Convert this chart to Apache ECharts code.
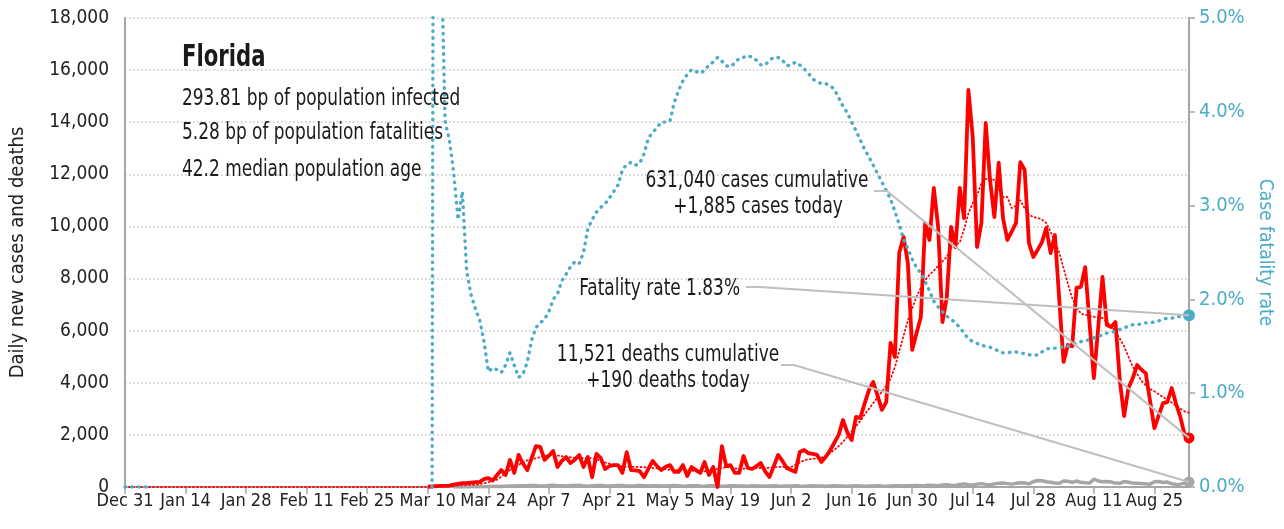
<!DOCTYPE html>
<html>
<head>
<meta charset="utf-8">
<title>Florida</title>
<script src="https://cdn.jsdelivr.net/npm/echarts/dist/echarts.min.js"></script>
<style>
    html, body { margin: 0; padding: 0; background: #fff; }
    #main1 { width: 1284px; height: 529px; }
</style>
</head>
<body>
<div id="main1"></div>
<script>
// 日期: Dec 31 2019 起, 共 247 天 (到 Sep 2)
var firstDay = [2019, 11, 31];
var dayCount = 247;
var labelEvery = 14;
var monthNames = ['Jan', 'Feb', 'Mar', 'Apr', 'May', 'Jun', 'Jul', 'Aug', 'Sep', 'Oct', 'Nov', 'Dec'];

// 每日新增病例 (从 Mar 10 开始, 之前无数据)
var casesFirstDay = 70;
var newCases = [
    10, 20, 30, 40, 45, 50, 90, 120, 150, 150,
    170, 190, 200, 300, 340, 250, 450, 650, 460, 1040,
    540, 1230, 900, 650, 1100, 1570, 1540, 1040, 1200, 1380,
    770, 1000, 1150, 920, 1050, 1230, 770, 1150, 380, 1270,
    1110, 690, 800, 840, 840, 540, 1340, 650, 640, 610,
    380, 700, 1000, 800, 650, 780, 840, 580, 580, 840,
    420, 770, 650, 540, 960, 460, 770, 0, 1570, 800,
    840, 540, 540, 1190, 730, 690, 800, 920, 600, 380,
    800, 1230, 1000, 730, 650, 580, 1340, 1420, 1300, 1270,
    1230, 960, 1150, 1400, 1700, 2000, 2570, 2100, 1800, 2690,
    2650, 3200, 3720, 4030, 3500, 2960, 3260, 5530, 4990, 8980,
    9600, 8600, 5260, 5900, 6520, 10130, 9480, 11480, 9980, 6330,
    7290, 9980, 9210, 11480, 10320, 15240, 13430, 9210, 10130, 13970,
    11780, 10360, 12450, 10320, 9480, 9800, 10130, 12470, 12170, 9360,
    8830, 9100, 9400, 9940, 8980, 9670, 7200, 4800, 5450, 5400,
    7640, 7680, 8440, 6300, 4180, 6100, 8060, 6220, 6140, 6330,
    4100, 2720, 3800, 4180, 4680, 4500, 4370, 3300, 2260, 2750,
    3220, 3260, 3800, 3200, 2690, 2000, 1885
];

// 病例移动平均 (红色点线), 前 70 天为 0
var avgZeroDays = 70;
var casesAvg = [
    5, 10, 15, 20, 30, 40, 50, 60, 70, 80,
    90, 100, 110, 140, 180, 230, 280, 400, 520, 650,
    750, 850, 950, 1020, 1060, 1100, 1150, 1190, 1220, 1230,
    1210, 1180, 1150, 1140, 1120, 1110, 1110, 1110, 1110, 1060,
    1000, 940, 900, 860, 820, 790, 770, 770, 770, 770,
    760, 745, 730, 715, 700, 680, 660, 650, 650, 650,
    650, 630, 600, 580, 600, 630, 650, 690, 730, 770,
    750, 720, 690, 700, 715, 730, 730, 730, 730, 740,
    755, 770, 770, 770, 770, 850, 940, 1020, 1060, 1080,
    1100, 1120, 1200, 1300, 1420, 1570, 1730, 1930, 2130, 2330,
    2530, 2780, 3000, 3220, 3440, 3660, 3880, 4150, 4600, 5200,
    5800, 6400, 6850, 7300, 7650, 7940, 8150, 8300, 8480, 8660,
    8830, 9180, 9300, 9380, 9900, 10500, 10900, 11200, 11650, 11820,
    11860, 11780, 11450, 11130, 11130, 10700, 10800, 11010, 10700, 10450,
    10360, 10330, 10260, 10130, 9800, 9400, 9000, 8400, 7800, 7250,
    6900, 6650, 6610, 6580, 6530, 6510, 6490, 6330, 6180, 5950,
    5700, 5400, 5000, 4620, 4350, 4080, 3900, 3760, 3670, 3560,
    3450, 3350, 3240, 3120, 3010, 2900, 2850
];

// 每日新增死亡 (从 Mar 16 开始)
var deathsFirstDay = 76;
var newDeaths = [
    1, 2, 3, 2, 5, 8, 10, 12, 15, 20, 25, 20, 30, 35, 40, 45,
    50, 45, 60, 55, 40, 35, 60, 70, 50, 45, 40, 55, 60, 65, 45,
    30, 50, 60, 55, 45, 40, 50, 60, 55, 40, 35, 45, 60, 50, 40,
    45, 50, 40, 35, 50, 55, 45, 30, 40, 50, 45, 35, 30, 45, 50, 40,
    30, 35, 45, 50, 40, 35, 30, 45, 40, 35, 30, 40, 45, 35, 30,
    35, 40, 45, 35, 30, 40, 45, 40, 35, 30, 40, 45, 40, 35, 30,
    40, 45, 40, 30, 35, 40, 45, 35, 30, 40, 50, 45, 40, 45, 50,
    60, 50, 55, 70, 60, 50, 80, 90, 70, 60, 100, 120, 90, 80, 110, 130,
    100, 90, 120, 140, 150, 130, 110, 140, 160, 150, 120, 200, 250, 240, 200,
    180, 150, 140, 230, 220, 180, 230, 180, 160, 150, 300, 230, 200, 210, 190,
    150, 140, 210, 180, 150, 140, 130, 120, 110, 200, 210, 170, 190, 130, 100,
    110, 150, 190
];

// 病死率 % (右轴), 开头几天为 0, 从 Mar 11 起
var rateEarly = [0, 0, 0, 0, 0, 0];
var rateFirstDay = 71;
var fatalityRate = [
    0, 25, 6.0, 3.9, 3.7, 3.35, 2.85, 3.15, 2.3, 2.05,
    1.9, 1.78, 1.55, 1.23, 1.27, 1.25, 1.22, 1.3, 1.43, 1.3,
    1.17, 1.2, 1.33, 1.56, 1.7, 1.75, 1.79, 1.87, 2.0, 2.06,
    2.2, 2.27, 2.35, 2.4, 2.38, 2.5, 2.75, 2.85, 2.93, 2.98,
    3.02, 3.08, 3.15, 3.22, 3.38, 3.44, 3.46, 3.43, 3.45, 3.55,
    3.72, 3.78, 3.83, 3.89, 3.89, 3.9, 4.1, 4.23, 4.33, 4.4,
    4.45, 4.43, 4.41, 4.44, 4.5, 4.53, 4.58, 4.54, 4.49, 4.48,
    4.52, 4.57, 4.58, 4.6, 4.58, 4.55, 4.5, 4.5, 4.55, 4.58,
    4.58, 4.55, 4.49, 4.5, 4.53, 4.5, 4.46, 4.41, 4.35, 4.32,
    4.3, 4.3, 4.28, 4.24, 4.15, 4.06, 3.99, 3.89, 3.8, 3.7,
    3.6, 3.52, 3.43, 3.34, 3.25, 3.16, 3.07, 2.94, 2.8, 2.64,
    2.54, 2.43, 2.34, 2.28, 2.19, 2.09, 1.98, 1.92, 1.87, 1.82,
    1.79, 1.75, 1.7, 1.64, 1.58, 1.55, 1.53, 1.51, 1.5, 1.49,
    1.47, 1.45, 1.43, 1.43, 1.44, 1.44, 1.43, 1.42, 1.41, 1.4,
    1.41, 1.44, 1.47, 1.48, 1.48, 1.49, 1.49, 1.5, 1.52, 1.53,
    1.55, 1.56, 1.57, 1.59, 1.61, 1.62, 1.64, 1.65, 1.66, 1.68,
    1.7, 1.71, 1.73, 1.73, 1.74, 1.75, 1.75, 1.76, 1.77, 1.79,
    1.8, 1.8, 1.81, 1.82, 1.82, 1.83
];

var stateName = 'Florida';
var infoLines = [
    '293.81 bp of population infected',
    '5.28 bp of population fatalities',
    '42.2 median population age'
];
var casesNote = ['631,040 cases cumulative', '+1,885 cases today'];
var rateNote = 'Fatality rate 1.83%';
var deathsNote = ['11,521 deaths cumulative', '+190 deaths today'];

var FONT = "'Liberation Sans Narrow', 'DejaVu Sans Condensed', 'Roboto', sans-serif";
var TEAL = '#4bacc6';
var GRAY = '#a6a6a6';
var LEADER = '#bfbfbf';
var NARROW = 0.82;   // 没有窄体字, 横向压缩文字

drawMain1();

function drawMain1() {
    var myChart = echarts.init(document.getElementById('main1'), null, { renderer: 'canvas' });

    var days = getDays(firstDay, dayCount);
    var lastDay = days[days.length - 1];

    var casesData = padFront(newCases, casesFirstDay, null);
    var avgData = padFront(casesAvg, avgZeroDays, 0);
    var deathsData = padFront(newDeaths, deathsFirstDay, null);
    var rateData = rateEarly.slice();
    rateData = rateData.concat(padFront(fatalityRate, rateFirstDay - rateEarly.length, null));

    var lastCases = newCases[newCases.length - 1];
    var lastDeaths = newDeaths[newDeaths.length - 1];
    var lastRate = fatalityRate[fatalityRate.length - 1];

    var leaderStyle = { color: LEADER, width: 2, type: 'solid' };
    // 每两周一个刻度
    var everyTwoWeeks = function (index) { return index % labelEvery === 0; };

    var option = {
        backgroundColor: '#fff',
        animation: false,
        textStyle: { fontFamily: FONT },
        grid: { left: 124, right: 95, top: 18, bottom: 42, containLabel: false },
        xAxis: {
            type: 'category',
            data: days,
            boundaryGap: false,
            axisLine: { lineStyle: { color: GRAY, width: 2 } },
            axisTick: { interval: everyTwoWeeks, length: 7, lineStyle: { color: GRAY, width: 1.5 } },
            axisLabel: {
                interval: everyTwoWeeks, fontSize: 18, color: '#222', margin: 5, fontFamily: FONT
            },
            splitLine: { show: false }
        },
        yAxis: [{
            type: 'value',
            min: 0,
            max: 18000,
            interval: 2000,
            name: 'Daily new cases and deaths',
            nameLocation: 'middle',
            nameGap: 97,
            nameTextStyle: { fontSize: 20, color: '#222', fontFamily: FONT },
            axisLine: { show: true, lineStyle: { color: GRAY, width: 2 } },
            axisTick: { show: false },
            axisLabel: {
                fontSize: 19, color: '#222', margin: 16, fontFamily: FONT,
                formatter: function (v) { return v.toLocaleString('en-US'); }
            },
            splitLine: { lineStyle: { color: '#c4c4c4', width: 1.5, type: [1.5, 2.5] } }
        }, {
            type: 'value',
            position: 'right',
            min: 0,
            max: 5,
            interval: 1,
            name: 'Case fatality rate',
            nameLocation: 'middle',
            nameRotate: -90,
            nameGap: 66,
            nameTextStyle: { fontSize: 19, color: TEAL, fontFamily: FONT },
            axisLine: { show: true, lineStyle: { color: GRAY, width: 2 } },
            axisTick: { show: true, length: 6, lineStyle: { color: GRAY, width: 1.5 } },
            axisLabel: {
                fontSize: 20, color: TEAL, margin: 10, fontFamily: FONT,
                formatter: function (v) { return v.toFixed(1) + '%'; }
            },
            splitLine: { show: false }
        }],
        series: [{
            name: 'deaths',
            type: 'line',
            data: deathsData,
            showSymbol: false,
            z: 2,
            lineStyle: { color: GRAY, width: 3.5, join: 'round' },
            markPoint: {
                symbol: 'circle', symbolSize: 11, silent: true,
                label: { show: false },
                itemStyle: { color: GRAY },
                data: [{ coord: [lastDay, lastDeaths] }]
            },
            markLine: {
                symbol: 'none', silent: true, z: 20,
                label: { show: false },
                lineStyle: leaderStyle,
                data: [
                    [{ x: 781, y: 365 }, { x: 794, y: 365 }],
                    [{ x: 794, y: 365 }, { coord: [lastDay, lastDeaths] }]
                ]
            }
        }, {
            name: 'cases',
            type: 'line',
            data: casesData,
            showSymbol: false,
            z: 3,
            lineStyle: { color: '#ff0000', width: 3.8, join: 'round' },
            markPoint: {
                symbol: 'circle', symbolSize: 11, silent: true,
                label: { show: false },
                itemStyle: { color: '#ff0000' },
                data: [{ coord: [lastDay, lastCases] }]
            },
            markLine: {
                symbol: 'none', silent: true, z: 20,
                label: { show: false },
                lineStyle: leaderStyle,
                data: [
                    [{ x: 874, y: 191 }, { x: 887, y: 191 }],
                    [{ x: 887, y: 191 }, { coord: [lastDay, lastCases] }]
                ]
            }
        }, {
            name: 'cases average',
            type: 'line',
            data: avgData,
            showSymbol: false,
            z: 4,
            lineStyle: { color: '#ff0000', width: 1.8, type: [1, 3], cap: 'round' }
        }, {
            name: 'fatality rate',
            type: 'line',
            yAxisIndex: 1,
            data: rateData,
            showSymbol: false,
            z: 5,
            lineStyle: { color: TEAL, width: 3.4, type: [0.5, 6.3], cap: 'round' },
            markPoint: {
                symbol: 'circle', symbolSize: 12, silent: true,
                label: { show: false },
                itemStyle: { color: TEAL },
                data: [{ coord: [lastDay, lastRate] }]
            },
            markLine: {
                symbol: 'none', silent: true, z: 20,
                label: { show: false },
                lineStyle: leaderStyle,
                data: [
                    [{ x: 746, y: 287 }, { x: 760, y: 287 }],
                    [{ x: 760, y: 287 }, { coord: [lastDay, lastRate] }]
                ]
            }
        }],
        graphic: buildTexts()
    };

    myChart.setOption(option);
}

// 左上角和注释文字
function buildTexts() {
    var items = [];
    items.push(textItem(stateName, 182, 58, 'left', 'bold 31px ' + FONT, 0.76));
    var infoY = [99, 133, 170];
    for (var i = 0; i < infoLines.length; i++) {
        items.push(textItem(infoLines[i], 182, infoY[i], 'left', '23px ' + FONT, NARROW));
    }
    items.push(textItem(casesNote[0], 757, 181, 'center', '23px ' + FONT, NARROW));
    items.push(textItem(casesNote[1], 758, 207, 'center', '23px ' + FONT, NARROW));
    items.push(textItem(rateNote, 740, 289, 'right', '23px ' + FONT, NARROW));
    items.push(textItem(deathsNote[0], 668, 355, 'center', '23px ' + FONT, NARROW));
    items.push(textItem(deathsNote[1], 668, 381, 'center', '23px ' + FONT, NARROW));
    return items;
}

function textItem(text, x, y, align, font, sx) {
    return {
        type: 'text',
        z: 30,
        silent: true,
        x: x,
        y: y,
        scaleX: sx,
        scaleY: 1,
        style: {
            text: text,
            x: 0,
            y: 0,
            font: font,
            fill: '#1a1a1a',
            align: align,
            verticalAlign: 'middle',
            textAlign: align,
            textVerticalAlign: 'middle'
        }
    };
}

// 生成日期标签
function getDays(start, count) {
    var result = [];
    var d = new Date(start[0], start[1], start[2]);
    for (var k = 0; k < count; k++) {
        result.push(monthNames[d.getMonth()] + ' ' + d.getDate());
        d.setDate(d.getDate() + 1);
    }
    return result;
}

// 在前面补空值
function padFront(arr, n, fill) {
    var out = [];
    for (var i = 0; i < n; i++) {
        out.push(fill);
    }
    return out.concat(arr);
}
</script>
</body>
</html>
